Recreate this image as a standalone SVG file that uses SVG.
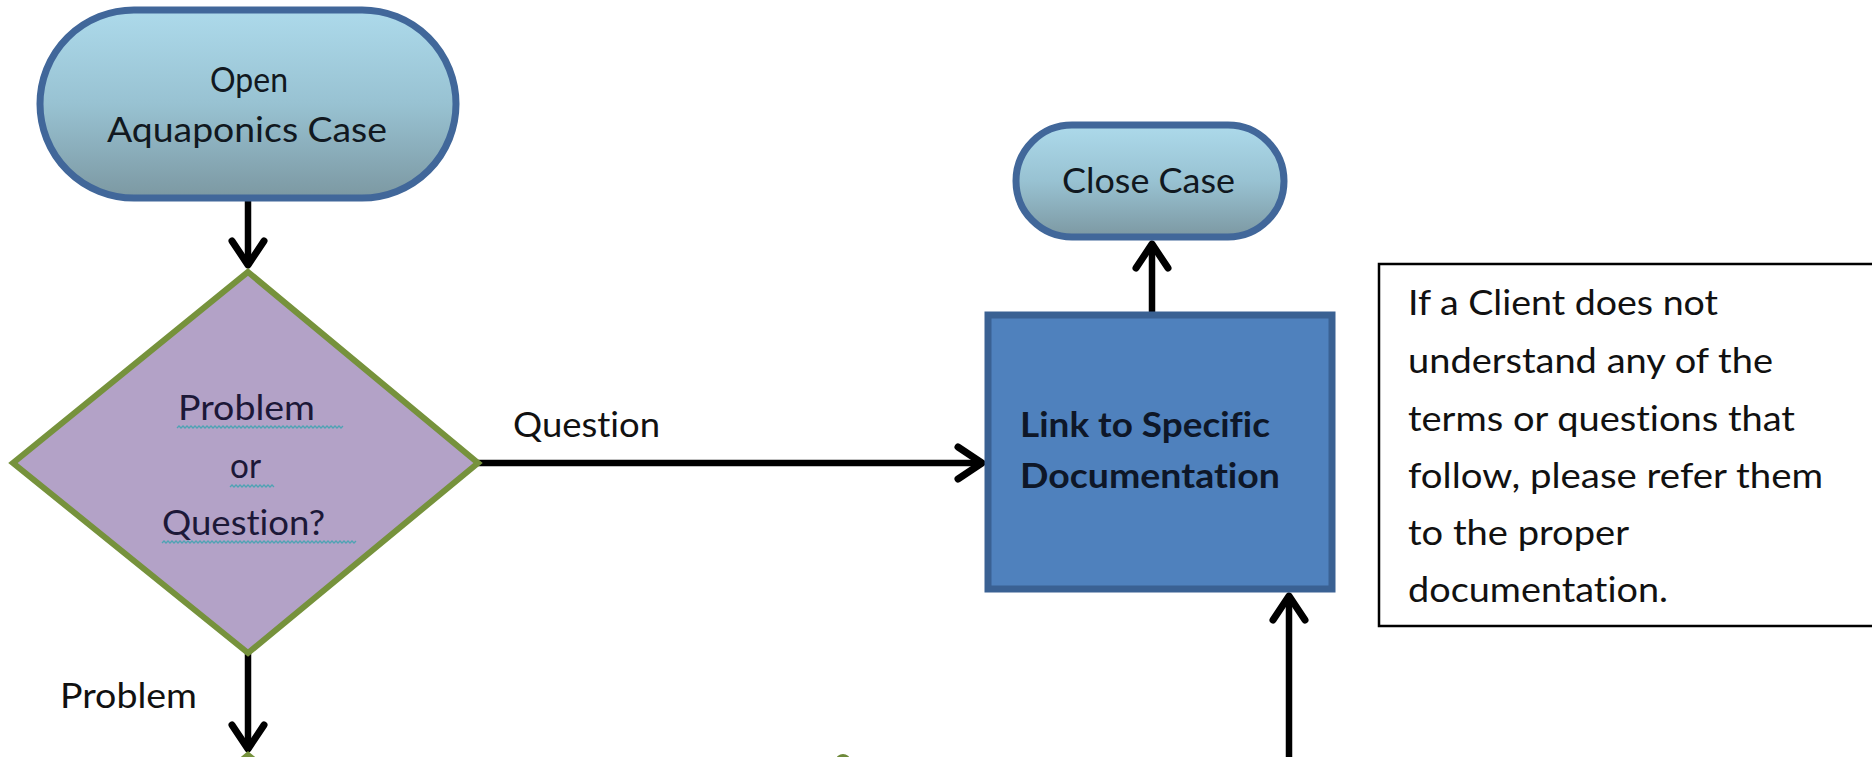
<svg xmlns="http://www.w3.org/2000/svg" width="1872" height="757" viewBox="0 0 1872 757">
  <defs>
    <linearGradient id="pillFill" x1="0" y1="0" x2="0" y2="1">
      <stop offset="0" stop-color="#ADDAEB"/>
      <stop offset="0.5" stop-color="#98C2D2"/>
      <stop offset="1" stop-color="#7C98A2"/>
    </linearGradient>
    <marker id="chevron" markerUnits="userSpaceOnUse" markerWidth="60" markerHeight="60" refX="0" refY="0" orient="auto" overflow="visible">
      <path d="M -24 -16 L 0 0 L -24 16" fill="none" stroke="#000" stroke-width="7" stroke-linecap="round" stroke-linejoin="round"/>
    </marker>
  </defs>
  <style>
    .txt { font-family: Lato, "Open Sans", "DejaVu Sans", sans-serif; font-size: 34px; fill: #111; font-variant-ligatures: none; }
    .pill { fill: url(#pillFill); stroke: #41679A; stroke-width: 7; }
    .pill-txt { fill: #111820; }
    .diamond { fill: #B3A2C7; stroke: #76923C; stroke-width: 6; }
    .diamond-txt { fill: #1C1838; }
    .process { fill: #4F81BD; stroke: #3A6193; stroke-width: 7; }
    .process-txt { fill: #0E1728; font-weight: bold; }
    .note { fill: #fff; stroke: #000; stroke-width: 2.5; }
    .squiggle { fill: none; stroke: #4FA3B4; stroke-width: 1.3; }
    .edge { fill: none; stroke: #000; stroke-width: 6.5; marker-end: url(#chevron); }
    .stub { fill: none; stroke: #76923C; stroke-width: 6; }
  </style>

  <rect width="1872" height="757" fill="#fff"/>

  <!-- connectors -->
  <g id="connectors">
    <path class="edge" d="M 248 199 L 248 265"/>
    <path class="edge" d="M 478 463 L 982 463"/>
    <path class="edge" d="M 248 653 L 248 749"/>
    <path class="edge" d="M 1152 312 L 1152 244"/>
    <path class="edge" d="M 1289 760 L 1289 596"/>
    <text class="txt" x="513" y="437" textLength="147" lengthAdjust="spacingAndGlyphs">Question</text>
    <text class="txt" x="60" y="708" textLength="137" lengthAdjust="spacingAndGlyphs">Problem</text>
  </g>

  <!-- start terminal -->
  <g id="open-case">
    <rect class="pill" x="40" y="10" width="416" height="188" rx="94" ry="94"/>
    <text class="txt pill-txt" x="210" y="92" textLength="78" lengthAdjust="spacingAndGlyphs">Open</text>
    <text class="txt pill-txt" x="107" y="142" textLength="280" lengthAdjust="spacingAndGlyphs">Aquaponics Case</text>
  </g>

  <!-- decision -->
  <g id="decision">
    <polygon class="diamond" points="248,272 478,463 248,653 13,463"/>
    <text class="txt diamond-txt" x="178" y="420" textLength="137" lengthAdjust="spacingAndGlyphs">Problem</text>
    <text class="txt diamond-txt" x="230" y="478" textLength="31" lengthAdjust="spacingAndGlyphs">or</text>
    <text class="txt diamond-txt" x="162" y="535" textLength="163" lengthAdjust="spacingAndGlyphs">Question?</text>
    <path class="squiggle" d="M177 428 l2 -2 l2 2 l2 -2 l2 2 l2 -2 l2 2 l2 -2 l2 2 l2 -2 l2 2 l2 -2 l2 2 l2 -2 l2 2 l2 -2 l2 2 l2 -2 l2 2 l2 -2 l2 2 l2 -2 l2 2 l2 -2 l2 2 l2 -2 l2 2 l2 -2 l2 2 l2 -2 l2 2 l2 -2 l2 2 l2 -2 l2 2 l2 -2 l2 2 l2 -2 l2 2 l2 -2 l2 2 l2 -2 l2 2 l2 -2 l2 2 l2 -2 l2 2 l2 -2 l2 2 l2 -2 l2 2 l2 -2 l2 2 l2 -2 l2 2 l2 -2 l2 2 l2 -2 l2 2 l2 -2 l2 2 l2 -2 l2 2 l2 -2 l2 2 l2 -2 l2 2 l2 -2 l2 2 l2 -2 l2 2 l2 -2 l2 2 l2 -2 l2 2 l2 -2 l2 2 l2 -2 l2 2 l2 -2 l2 2 l2 -2 l2 2 l2 -2"/>
    <path class="squiggle" d="M230 487 l2 -2 l2 2 l2 -2 l2 2 l2 -2 l2 2 l2 -2 l2 2 l2 -2 l2 2 l2 -2 l2 2 l2 -2 l2 2 l2 -2 l2 2 l2 -2 l2 2 l2 -2 l2 2 l2 -2 l2 2"/>
    <path class="squiggle" d="M162 543 l2 -2 l2 2 l2 -2 l2 2 l2 -2 l2 2 l2 -2 l2 2 l2 -2 l2 2 l2 -2 l2 2 l2 -2 l2 2 l2 -2 l2 2 l2 -2 l2 2 l2 -2 l2 2 l2 -2 l2 2 l2 -2 l2 2 l2 -2 l2 2 l2 -2 l2 2 l2 -2 l2 2 l2 -2 l2 2 l2 -2 l2 2 l2 -2 l2 2 l2 -2 l2 2 l2 -2 l2 2 l2 -2 l2 2 l2 -2 l2 2 l2 -2 l2 2 l2 -2 l2 2 l2 -2 l2 2 l2 -2 l2 2 l2 -2 l2 2 l2 -2 l2 2 l2 -2 l2 2 l2 -2 l2 2 l2 -2 l2 2 l2 -2 l2 2 l2 -2 l2 2 l2 -2 l2 2 l2 -2 l2 2 l2 -2 l2 2 l2 -2 l2 2 l2 -2 l2 2 l2 -2 l2 2 l2 -2 l2 2 l2 -2 l2 2 l2 -2 l2 2 l2 -2 l2 2 l2 -2 l2 2 l2 -2 l2 2 l2 -2 l2 2 l2 -2 l2 2 l2 -2 l2 2 l2 -2"/>
  </g>

  <!-- documentation step -->
  <g id="link-docs">
    <rect class="process" x="988" y="315" width="344" height="274"/>
    <text class="txt process-txt" x="1020" y="437" textLength="250" lengthAdjust="spacingAndGlyphs">Link to Specific</text>
    <text class="txt process-txt" x="1020" y="488" textLength="260" lengthAdjust="spacingAndGlyphs">Documentation</text>
  </g>

  <!-- end terminal -->
  <g id="close-case">
    <rect class="pill" x="1016" y="125" width="268" height="112" rx="56" ry="56"/>
    <text class="txt pill-txt" x="1062" y="193" textLength="173" lengthAdjust="spacingAndGlyphs">Close Case</text>
  </g>

  <!-- side note -->
  <g id="note">
    <rect class="note" x="1379" y="264" width="520" height="362"/>
    <text class="txt" x="1408" y="315" textLength="310" lengthAdjust="spacingAndGlyphs">If a Client does not</text>
    <text class="txt" x="1408" y="373" textLength="365" lengthAdjust="spacingAndGlyphs">understand any of the</text>
    <text class="txt" x="1408" y="431" textLength="387" lengthAdjust="spacingAndGlyphs">terms or questions that</text>
    <text class="txt" x="1408" y="488" textLength="415" lengthAdjust="spacingAndGlyphs">follow, please refer them</text>
    <text class="txt" x="1408" y="545" textLength="221" lengthAdjust="spacingAndGlyphs">to the proper</text>
    <text class="txt" x="1408" y="602" textLength="260" lengthAdjust="spacingAndGlyphs">documentation.</text>
  </g>

  <!-- shapes continuing below the lower edge -->
  <g id="next-steps">
    <polygon class="stub" points="248,755 270,773 226,773"/>
    <ellipse cx="843" cy="760" rx="7" ry="6" fill="#6E8A3A"/>
  </g>
</svg>
